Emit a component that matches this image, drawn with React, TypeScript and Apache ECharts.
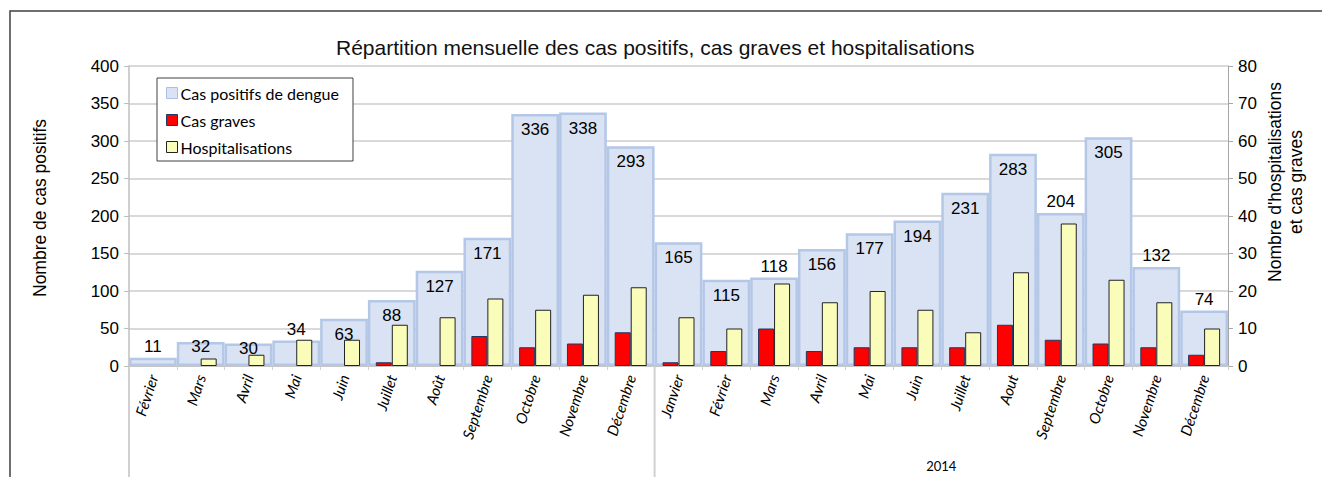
import React, { useEffect, useRef } from 'react';
import * as echarts from 'echarts';

const months = [
  'Février', 'Mars', 'Avril', 'Mai', 'Juin', 'Juillet', 'Août', 'Septembre', 'Octobre', 'Novembre', 'Décembre',
  'Janvier', 'Février', 'Mars', 'Avril', 'Mai', 'Juin', 'Juillet', 'Aout', 'Septembre', 'Octobre', 'Novembre', 'Décembre',
];
const casPositifs = [11, 32, 30, 34, 63, 88, 127, 171, 336, 338, 293, 165, 115, 118, 156, 177, 194, 231, 283, 204, 305, 132, 74];
const casGraves = [0, 0, 0, 0, 0, 1, 0, 8, 5, 6, 9, 1, 4, 10, 4, 5, 5, 5, 11, 7, 6, 5, 3];
const hospitalisations = [0, 2, 3, 7, 7, 11, 13, 18, 15, 19, 21, 13, 10, 22, 17, 20, 15, 9, 25, 38, 23, 17, 10];

const leftAxisTicks = { min: 0, max: 400, interval: 50 };
const rightAxisTicks = { min: 0, max: 80, interval: 10 };

const yearGroups = [
  { label: '', first: 0, last: 10 },
  { label: '2014', first: 11, last: 22 },
];

// label placement of the "cas positifs" values (indices)
const labelAbove = [0, 3, 13, 19, 21, 22];
const labelOnEdge = [1, 2];

const TITLE = 'Répartition mensuelle des cas positifs, cas graves et hospitalisations';
const LEFT_NAME = 'Nombre de cas positifs';
const RIGHT_NAME = "Nombre d'hospitalisations\net cas graves";
const S_POS = 'Cas positifs de dengue';
const S_GRA = 'Cas graves';
const S_HOS = 'Hospitalisations';

const ARIAL = '"Liberation Sans", Arial, sans-serif';
const CAL = 'Lato, "Open Sans", sans-serif';

export default function App() {
  const ref = useRef<HTMLDivElement>(null);

  useEffect(() => {
    document.body.style.margin = '0';
    const chart = echarts.init(ref.current as HTMLDivElement, null, { renderer: 'svg' });

    const posData = casPositifs.map((v, i) => {
      let label: any = { position: 'insideTop', distance: 7 };
      if (labelAbove.includes(i)) label = { position: 'top', distance: 3 };
      else if (labelOnEdge.includes(i)) label = { position: 'insideTop', distance: -4 };
      return { value: v, label };
    });
    const nz = (arr: number[]) => arr.map((v) => (v === 0 ? '-' : v));

    const option: any = {
      animation: false,
      backgroundColor: '#ffffff',
      title: {
        text: TITLE,
        left: 331,
        top: 32,
        textStyle: { fontFamily: ARIAL, fontSize: 21, fontWeight: 'normal', color: '#111' },
      },
      legend: {
        orient: 'vertical',
        left: 157,
        top: 78,
        backgroundColor: '#ffffff',
        borderColor: '#404040',
        borderWidth: 1,
        borderRadius: 0,
        padding: [7, 14, 6, 9],
        itemGap: 11,
        itemWidth: 11,
        itemHeight: 11,
        icon: 'rect',
        textStyle: { fontFamily: CAL, fontSize: 16, color: '#000', padding: [0, 0, 0, -2] },
        data: [
          { name: S_POS, itemStyle: { borderWidth: 1, borderColor: '#A9BFE3' } },
          { name: S_GRA, itemStyle: { borderWidth: 1 } },
          { name: S_HOS, itemStyle: { borderWidth: 1 } },
        ],
      },
      grid: { left: 129, right: 94, top: 66, bottom: 111, containLabel: false },
      xAxis: [
        {
          type: 'category',
          data: months,
          axisLine: { show: true, lineStyle: { color: '#BFBFBF', width: 1.5 } },
          axisTick: { show: true, length: 4, lineStyle: { color: '#D0D0D0' } },
          axisLabel: {
            rotate: 72,
            interval: 0,
            margin: 9,
            fontFamily: CAL,
            fontStyle: 'italic',
            fontSize: 15,
            color: '#000',
          },
        },
        {
          type: 'category',
          data: months,
          show: false,
        },
      ],
      yAxis: [
        {
          type: 'value',
          ...leftAxisTicks,
          axisLine: { show: true, lineStyle: { color: '#BFBFBF', width: 1.5 } },
          axisTick: { show: true, length: 5, lineStyle: { color: '#BFBFBF' } },
          axisLabel: { fontFamily: ARIAL, fontSize: 17, color: '#000', margin: 10 },
          splitLine: { show: true, lineStyle: { color: '#D9D9D9', width: 2 } },
        },
        {
          type: 'value',
          ...rightAxisTicks,
          position: 'right',
          axisLine: { show: true, lineStyle: { color: '#A6A6A6', width: 1 } },
          axisTick: { show: true, length: 5, lineStyle: { color: '#A6A6A6' } },
          axisLabel: { fontFamily: ARIAL, fontSize: 17, color: '#000', margin: 10 },
          splitLine: { show: false },
        },
      ],
      series: [
        {
          name: S_POS,
          type: 'bar',
          xAxisIndex: 0,
          yAxisIndex: 0,
          barWidth: '100%',
          data: posData,
          itemStyle: { color: '#DAE3F3', borderColor: '#B4C7E7', borderWidth: 2.5 },
          label: {
            show: true,
            fontFamily: ARIAL,
            fontSize: 17,
            color: '#000',
          },
          z: 1,
        },
        {
          name: S_GRA,
          type: 'bar',
          xAxisIndex: 1,
          yAxisIndex: 1,
          barWidth: 16,
          barGap: '0%',
          data: nz(casGraves),
          itemStyle: { color: '#FF0000', borderColor: '#1F3864', borderWidth: 1 },
          z: 3,
        },
        {
          name: S_HOS,
          type: 'bar',
          xAxisIndex: 1,
          yAxisIndex: 1,
          barWidth: 16,
          barGap: '0%',
          data: nz(hospitalisations),
          itemStyle: { color: '#FAFDBA', borderColor: '#222222', borderWidth: 1 },
          z: 3,
        },
      ],
    };

    chart.setOption(option);

    const cx = (i: number) => chart.convertToPixel({ xAxisIndex: 0 }, i) as number;
    const y0 = chart.convertToPixel({ yAxisIndex: 0 }, 0) as number;
    const step = cx(1) - cx(0);
    const graphics: any[] = [
      {
        type: 'rect',
        shape: { x: 10, y: 11, width: 1500, height: 700 },
        style: { fill: 'none', stroke: '#404040', lineWidth: 1.5 },
        z: -10,
        silent: true,
      },
      {
        type: 'text',
        x: 40,
        y: 208,
        rotation: Math.PI / 2,
        style: {
          text: LEFT_NAME,
          fontFamily: ARIAL,
          fontSize: 17.5,
          fill: '#000',
          textAlign: 'center',
          textVerticalAlign: 'middle',
        },
        silent: true,
      },
      {
        type: 'text',
        x: 1285,
        y: 182,
        rotation: Math.PI / 2,
        style: {
          text: RIGHT_NAME,
          fontFamily: ARIAL,
          fontSize: 17.5,
          lineHeight: 21,
          fill: '#000',
          textAlign: 'center',
          textVerticalAlign: 'middle',
        },
        silent: true,
      },
    ];
    yearGroups.forEach((g) => {
      const xs = cx(g.first) - step / 2;
      const xe = cx(g.last) + step / 2;
      graphics.push({
        type: 'line',
        shape: { x1: xs, y1: y0, x2: xs, y2: 480 },
        style: { stroke: '#D0D0D0', lineWidth: 2 },
        silent: true,
      });
      if (g.label) {
        graphics.push({
          type: 'text',
          x: (xs + xe) / 2,
          y: 466,
          style: {
            text: g.label,
            fontFamily: CAL,
            fontSize: 13,
            fill: '#000',
            textAlign: 'center',
            textVerticalAlign: 'middle',
          },
          silent: true,
        });
      }
    });
    chart.setOption({ graphic: graphics });

    return () => chart.dispose();
  }, []);

  return <div ref={ref} style={{ width: 1322, height: 477 }} />;
}
